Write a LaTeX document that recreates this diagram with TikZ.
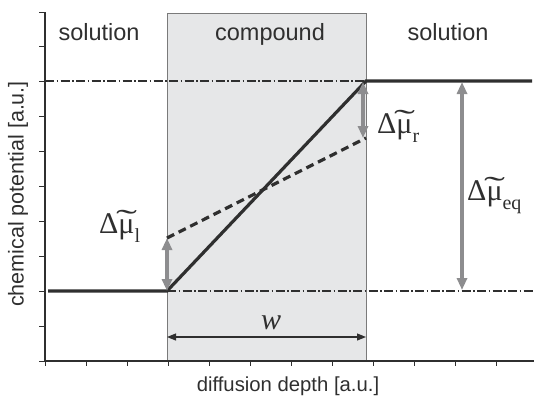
\documentclass[tikz,border=0pt]{standalone}
\usepackage{fontspec}
\usepackage{graphicx}
\setmainfont{Liberation Sans}
\newfontfamily\serifmu{Liberation Serif}
\usetikzlibrary{arrows.meta}
\definecolor{inkgray}{HTML}{2F2F2F}
\definecolor{arrowgray}{HTML}{8D8D8F}
\definecolor{boxgray}{HTML}{E6E7E8}
\definecolor{boxedge}{HTML}{7A7A7A}
\newcommand{\tildemu}{\ooalign{μ\cr\hidewidth\raisebox{0.1em}{\scalebox{2.1}[1]{\char"02DC}}\hidewidth\cr}}
\newcommand{\potdiff}[1]{Δ\tildemu\raisebox{-9pt}{\fontsize{20}{20}\selectfont #1}}
\tikzset{
  levelline/.style={draw=inkgray,line width=3.2pt},
  refline/.style={draw=inkgray,line width=1.1pt,dash pattern=on 9pt off 2.5pt on 1.5pt off 2.5pt},
  gapline/.style={draw=inkgray,line width=3.2pt,dash pattern=on 8pt off 5pt},
  deltaarrow/.style={{Triangle[length=12pt,width=10pt]}-{Triangle[length=12pt,width=10pt]},draw=arrowgray,line width=4pt},
  widtharrow/.style={{Triangle[length=9pt,width=7pt]}-{Triangle[length=9pt,width=7pt]},draw=inkgray,line width=1.1pt},
  deltalabel/.style={font=\serifmu\fontsize{30}{30}\selectfont,text=inkgray,anchor=base west,inner sep=0pt},
  regionlabel/.style={font=\fontsize{23.5}{24}\selectfont,text=inkgray,anchor=base,inner sep=0pt},
  axislabel/.style={font=\fontsize{20.3}{21}\selectfont,text=inkgray,inner sep=0pt},
  tickmark/.style={draw=inkgray,line width=1pt}
}
\begin{document}
\begin{tikzpicture}[x=1pt,y=-1pt]
  \useasboundingbox (0,0) rectangle (534,402);

  \fill[boxgray] (167,13) rectangle (366,361);
  \draw[boxedge,line width=0.9pt] (167,361) -- (167,13) -- (366,13) -- (366,361);

  \coordinate (origin) at (45,361);
  \draw[inkgray,line width=1.1pt] (45,12) -- (origin) -- (534,361);
  \foreach \k in {0,...,10}
    \draw[tickmark] (45,{12+34.9*\k}) -- ++(-6,0);
  \foreach \k in {0,...,11}
    \draw[tickmark] ({45+41*\k},361) -- ++(0,5);

  \coordinate (lowstart) at (48,291);
  \coordinate (lowend) at (167,291);
  \coordinate (highstart) at (366,81);
  \coordinate (highend) at (532,81);
  \coordinate (gapleft) at (167,238);
  \coordinate (gapright) at (366,138);

  \draw[refline] (45,81) -- (highstart);
  \draw[refline] (lowend) -- (534,291);
  \draw[gapline] (gapleft) -- (gapright);
  \draw[levelline] (lowstart) -- (lowend) -- (highstart) -- (highend);

  \draw[deltaarrow] (gapleft) -- (lowend);
  \draw[deltaarrow] (363,82) -- (363,138);
  \draw[deltaarrow] (462,82) -- (462,290);

  \coordinate (wleft) at (167,337);
  \coordinate (wright) at (366,337);
  \draw[widtharrow] (wleft) -- (wright);
  \node[font=\serifmu\itshape\fontsize{30}{30}\selectfont,text=inkgray,anchor=base] (wlabel) at (271,329) {w};

  \node[deltalabel] (dleft) at (99,233) {\potdiff{l}};
  \node[deltalabel] (dright) at (377,133) {\potdiff{r}};
  \node[deltalabel] (deq) at (467,200) {\potdiff{eq}};

  \node[regionlabel] (solleft) at (99,40) {solution};
  \node[regionlabel] (comp) at (270,40) {compound};
  \node[regionlabel] (solright) at (448,40) {solution};

  \node[axislabel] (xlabel) at (288,386) {diffusion depth [a.u.]};
  \node[axislabel,font=\fontsize{21.5}{22}\selectfont,rotate=90] (ylabel) at (18,194) {chemical potential [a.u.]};
\end{tikzpicture}
\end{document}
